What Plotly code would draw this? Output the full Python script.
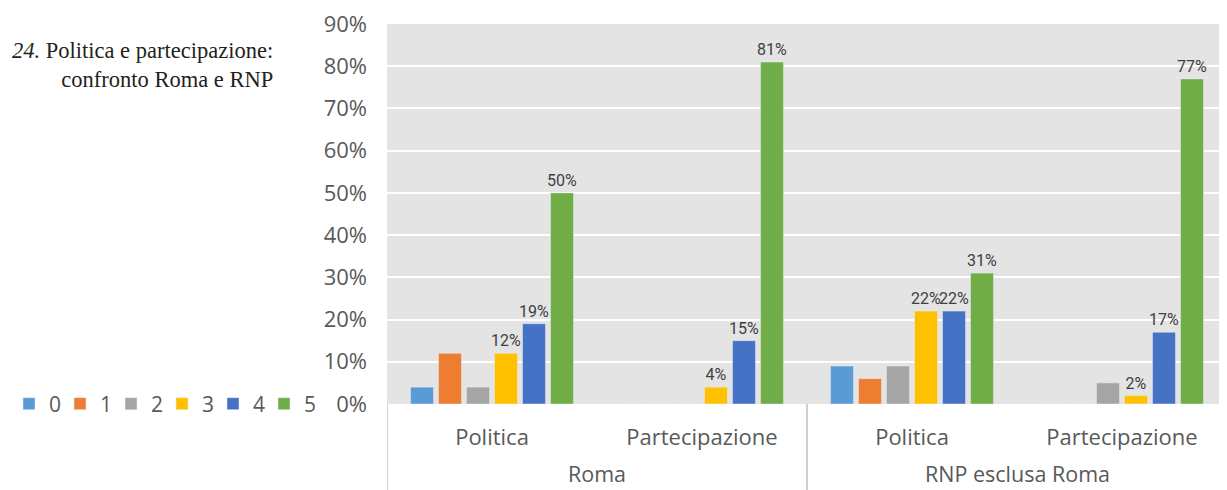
import plotly.graph_objects as go

# ---------------------------------------------------------------------------
# Data
# ---------------------------------------------------------------------------
groups = ["Roma", "Roma", "RNP esclusa Roma", "RNP esclusa Roma"]
topics = ["Politica", "Partecipazione", "Politica", "Partecipazione"]

series_names = ["0", "1", "2", "3", "4", "5"]
values_0 = [0.04, 0.0, 0.09, 0.0]
values_1 = [0.12, 0.0, 0.06, 0.0]
values_2 = [0.04, 0.0, 0.09, 0.05]
values_3 = [0.12, 0.04, 0.22, 0.02]
values_4 = [0.19, 0.15, 0.22, 0.17]
values_5 = [0.50, 0.81, 0.31, 0.77]

labelled = ["3", "4", "5"]
colors = ["#5b9bd5", "#ed7d31", "#a5a5a5", "#ffc000", "#4472c4", "#70ad47"]

all_values = [values_0, values_1, values_2, values_3, values_4, values_5]
cat_keys = [f"{g}|{t}" for g, t in zip(groups, topics)]

fig = go.Figure()
for name, vals, col in zip(series_names, all_values, colors):
    if name in labelled:
        txt = [f"{round(v * 100)}%" if v > 0 else "" for v in vals]
    else:
        txt = ["" for _ in vals]
    fig.add_trace(
        go.Bar(
            x=cat_keys,
            y=vals,
            name=name,
            marker_color=col,
            text=txt,
            textposition="outside",
            constraintext="none",
            cliponaxis=False,
            textfont=dict(family="Roboto, sans-serif", size=16, color="#404040"),
        )
    )

# group labels and divider lines under the axis
group_names = list(dict.fromkeys(groups))
for i, g in enumerate(group_names):
    fig.add_annotation(
        text=g, xref="x", yref="paper", x=2 * i + 0.5, y=-0.182, yanchor="middle",
        showarrow=False, font=dict(family="Open Sans, sans-serif", size=21.5, color="#595959"),
    )
for xd in [-0.5, 1.5, 3.5]:
    fig.add_shape(
        type="line", xref="x", yref="paper", x0=xd, x1=xd, y0=0, y1=-0.25,
        line=dict(color="#d0d0d0", width=2),
    )

fig.add_annotation(
    text="<i>24.</i> Politica e partecipazione:<br>confronto Roma e RNP",
    xref="paper", yref="paper",
    x=-0.133, y=0.968, xanchor="right", yanchor="top",
    align="right", showarrow=False,
    font=dict(family="Liberation Serif, DejaVu Serif, serif", size=22.5, color="#231f20"),
)

fig.update_layout(
    width=1219,
    height=482,
    barmode="group",
    bargap=0.2,
    bargroupgap=0.18,
    margin=dict(l=379, r=0, t=16, b=86),
    plot_bgcolor="#e4e4e4",
    paper_bgcolor="white",
    font=dict(family="Open Sans, sans-serif", size=20, color="#595959"),
    legend=dict(
        orientation="h", x=-0.45, y=0.0, xanchor="left", yanchor="middle",
        bgcolor="rgba(0,0,0,0)",
        font=dict(size=21, color="#595959"), entrywidth=6, entrywidthmode="pixels",
    ),
    xaxis=dict(
        type="category",
        tickvals=cat_keys,
        ticktext=topics,
        showgrid=False,
        ticks="",
        automargin=False,
        ticklabelstandoff=18,
        tickfont=dict(size=22, color="#595959"),
        range=[-0.5, 3.5],
    ),
    yaxis=dict(
        range=[0, 0.9],
        dtick=0.1,
        tickformat=".0%",
        showgrid=True,
        gridcolor="white",
        gridwidth=2,
        zeroline=False,
        automargin=False,
        ticklabeloverflow="allow",
        ticklabelstandoff=19,
        tickfont=dict(size=22, color="#595959"),
    ),
)

fig.write_html("out.html")
